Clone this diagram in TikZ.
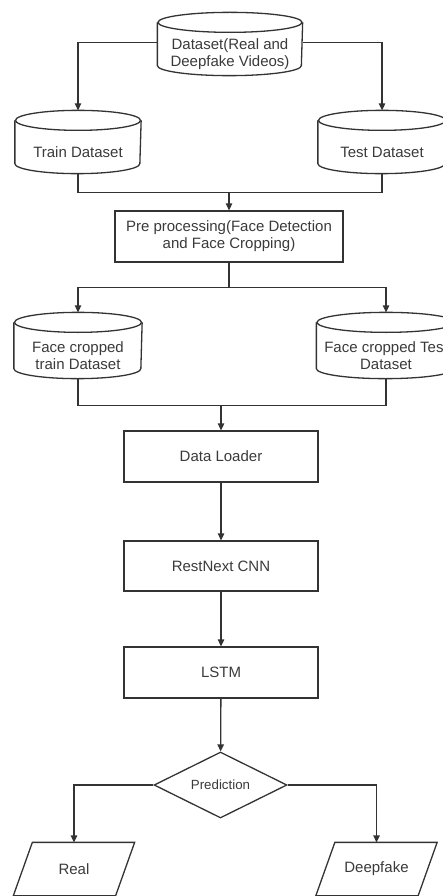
\documentclass[tikz,border=0pt]{standalone}
\usepackage{fontspec}
\setmainfont{Liberation Sans}
\usetikzlibrary{arrows.meta,shapes.geometric,calc}
\definecolor{ink}{HTML}{333333}
\definecolor{txt}{HTML}{3A3A3A}

% Database cylinder drawn around a named body node (the part below the top ellipse)
\newcommand{\drawcyl}[2]{%
  \draw ([yshift=10pt]#1.north west) -- ([yshift=10pt]#1.south west)
        arc[start angle=180,end angle=360,x radius=#2,y radius=10pt]
        -- ([yshift=10pt]#1.north east);
  \draw ([yshift=10pt]#1.north) ellipse[x radius=#2,y radius=10pt];
  \coordinate (#1-top) at ([yshift=20pt]#1.north);
}
% Parallelogram (input/output) drawn around a named node
\newcommand{\drawio}[1]{%
  \draw ([xshift=9.5pt]#1.north west) -- ([xshift=9.5pt]#1.north east)
        -- ([xshift=-9.5pt]#1.south east) -- ([xshift=-9.5pt]#1.south west) -- cycle;
}

\begin{document}
\begin{tikzpicture}[x=1pt,y=1pt,
  line width=1.3pt, color=ink,
  every node/.style={text=txt},
  font=\fontsize{15}{17}\selectfont,
  flow/.style={-{Triangle[length=7pt,width=6.5pt]}},
  body/.style={inner sep=0pt, align=center},
  proc/.style={draw, rectangle, inner sep=0pt, minimum width=194pt, minimum height=51pt, align=center},
  decision/.style={draw, diamond, inner sep=0pt, aspect=2, minimum width=133pt, minimum height=66pt,
                   font=\fontsize{13.3}{15}\selectfont},
  io/.style={inner sep=0pt, minimum width=101pt, minimum height=52pt}
]
\useasboundingbox (0,0) rectangle (443,-896);
\clip (0,0) rectangle (443,-896);

% Data sources
\node[body, minimum width=144pt, minimum height=42pt] (ds) at (230,-54) {Dataset(Real and\\Deepfake Videos)};
\drawcyl{ds}{72pt}
\node[body, minimum width=125pt, minimum height=42pt] (train) at (78,-152) {Train Dataset};
\drawcyl{train}{62.5pt}
\node[body, minimum width=127pt, minimum height=42pt] (test) at (382,-152) {Test Dataset};
\drawcyl{test}{63.5pt}

% Pre-processing
\node[proc, minimum width=228pt] (pre) at (229,-236.5) {Pre processing(Face Detection\\and Face Cropping)};

% Face-cropped datasets
\node[body, minimum width=127pt, minimum height=45pt] (ftrain) at (78,-355.5) {Face cropped\\train Dataset};
\drawcyl{ftrain}{63.5pt}
\node[body, minimum width=138pt, minimum height=45pt] (ftest) at (386,-355.5) {Face cropped Test\\Dataset};
\drawcyl{ftest}{69pt}

% Model pipeline
\node[proc] (loader) at (221,-456.5) {Data Loader};
\node[proc, minimum height=50pt] (cnn) at (221,-566) {RestNext CNN};
\node[proc] (lstm) at (221,-672.5) {LSTM};
\node[decision] (pred) at (220.5,-785) {Prediction};

% Outputs
\node[io] (real) at (74,-869) {Real};
\drawio{real}
\node[io] (fake) at (376.5,-869) {Deepfake};
\drawio{fake}

% Connectors
\draw[flow] ([yshift=-10pt]ds.north west) -| (train-top);
\draw[flow] ([yshift=-10pt]ds.north east) -| (test-top);

\coordinate (m1) at ($(pre.north)+(0,18)$);
\draw (train.south) |- (m1) -| (test.south);
\draw[flow] (m1) -- (pre.north);

\coordinate (s2) at ($(pre.south)+(0,-25)$);
\draw (pre.south) -- (s2);
\draw[flow] (s2) -| (ftrain-top);
\draw[flow] (s2) -| (ftest-top);

\coordinate (m2) at ($(loader.north)+(0,25)$);
\draw (ftrain.south) |- (m2) -| (ftest.south);
\draw[flow] (m2) -- (loader.north);

\draw[flow] (loader) -- (cnn);
\draw[flow] (cnn) -- (lstm);
\draw[flow] (lstm) -- (pred);
\draw[flow] (pred.west) -| (real.north);
\draw[flow] (pred.east) -| (fake.north);
\end{tikzpicture}
\end{document}
